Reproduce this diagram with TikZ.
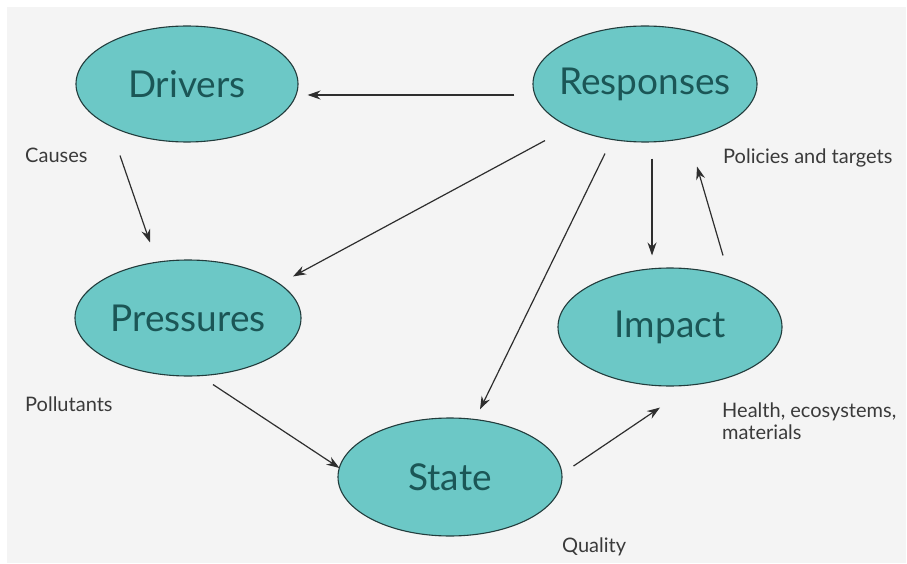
\documentclass[tikz,border=0pt]{standalone}
\usepackage{fontspec}
\setmainfont{Lato}
\usetikzlibrary{shapes.geometric,arrows.meta,calc}
\definecolor{bgpanel}{HTML}{F4F4F4}
\definecolor{ellfill}{HTML}{6CC8C6}
\definecolor{elltext}{HTML}{1B5656}
\definecolor{elledge}{HTML}{223C3C}
\definecolor{arrcol}{HTML}{2E2E2E}
\definecolor{labcol}{HTML}{3A3A3A}
\newcommand{\stagetext}[1]{\makebox[0pt][c]{#1}}
\tikzset{
  stage/.style={ellipse, draw=elledge, line width=1.1pt, fill=ellfill, inner sep=0pt,
    text=elltext, font=\fontsize{37}{42}\selectfont},
  arr/.style={draw=arrcol, line width=1.2pt, -{Stealth[length=13pt,width=9pt]}},
  lab/.style={text=labcol, font=\fontsize{20}{22}\selectfont, inner sep=0pt, anchor=west},
}
\begin{document}
\begin{tikzpicture}[x=1pt,y=-1pt]
\useasboundingbox (0,0) rectangle (907,564);
\fill[white] (0,0) rectangle (907,564);
\fill[bgpanel] (7,7) rectangle (906,563);

\node[stage, minimum width=222pt, minimum height=116pt] (drv) at (187,84) {\stagetext{Drivers}};
\node[stage, minimum width=224pt, minimum height=116pt] (resp) at (645,84) {\stagetext{Responses}};
\node[stage, minimum width=226pt, minimum height=116pt] (pres) at (188,318) {\stagetext{Pressures}};
\node[stage, minimum width=224pt, minimum height=118pt] (imp) at (670,327) {\stagetext{Impact}};
\node[stage, minimum width=224pt, minimum height=118pt] (state) at (450,477) {\stagetext{State}};

\draw[arr] ($(resp.west)+(-18,11)$) -- ($(drv.east)+(9,11)$);
\draw[arr] ($(drv.south)+(-67,13)$) -- ($(pres.north)+(-38,-17)$);
\draw[arr] ($(resp.south)+(-100,-2)$) -- ($(pres.north)+(105,17)$);
\draw[arr] ($(resp.south)+(-40,11)$) -- ($(state.north)+(30,-8)$);
\draw[arr] ($(resp.south)+(7,16)$) -- ($(imp.north)+(-18,-12)$);
\draw[arr] ($(imp.north)+(53,-12)$) -- ($(resp.south)+(52,24)$);
\draw[arr] ($(pres.south)+(25,8)$) -- ($(state.west)+(2,-9)$);
\draw[arr] ($(state.east)+(11,-11)$) -- ($(imp.south)+(-10,21)$);

\node[lab] (lcause) at (25,155) {Causes};
\node[lab] (lpol) at (723,158) {Policies and targets};
\node[lab] (lpollut) at (25,404) {Pollutants};
\node[lab, anchor=north west, align=left] (lhealth) at (722,403) {Health, ecosystems,\\materials};
\node[lab] (lqual) at (562,547) {Quality};
\end{tikzpicture}
\end{document}
